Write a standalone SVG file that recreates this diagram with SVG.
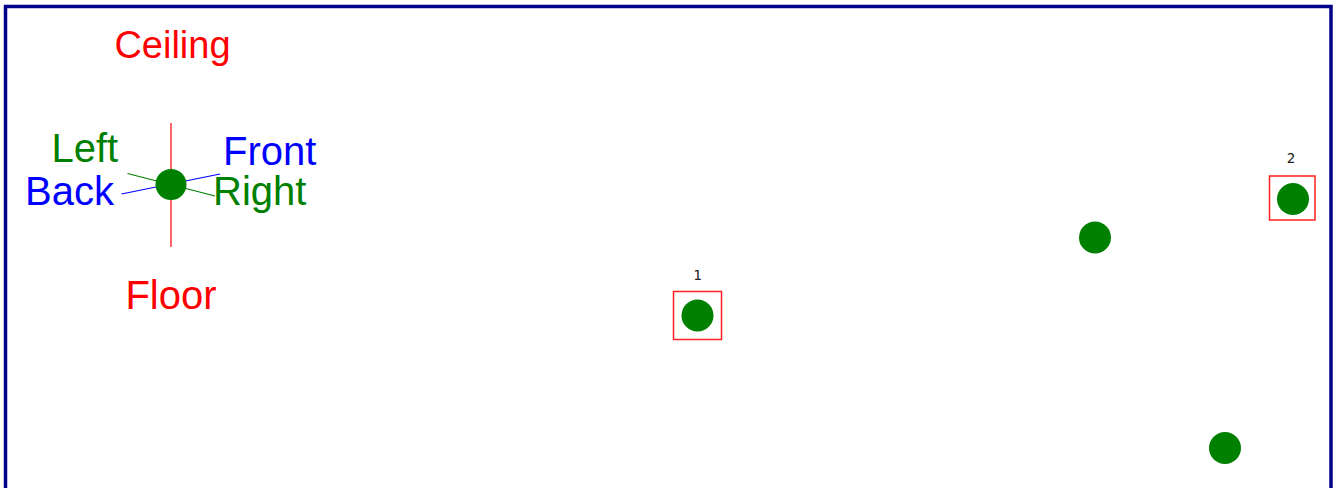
<svg xmlns="http://www.w3.org/2000/svg" width="1333" height="488" viewBox="0 0 1333 488">
<style>
.lbl{font-family:"Liberation Sans",Arial,sans-serif;font-size:40px}
.red{fill:#ff0000}.grn{fill:#008000}.blu{fill:#0000ff}
.num{font-family:"DejaVu Sans Mono","Liberation Mono",monospace;font-size:14px;fill:#222;text-anchor:middle}
.dot{fill:#008000}
.sel{fill:none;stroke:#ff2020;stroke-width:1.5}
</style>
<rect x="5.5" y="6.5" width="1325.5" height="520" fill="#ffffff" stroke="#00008b" stroke-width="3.5"/>
<g id="compass">
<line x1="171" y1="123" x2="171" y2="247" stroke="#ff0000" stroke-width="1.2"/>
<line x1="127.5" y1="173.5" x2="215" y2="196" stroke="#008000" stroke-width="1.2"/>
<line x1="121.5" y1="194" x2="220" y2="174" stroke="#0000ff" stroke-width="1.2"/>
<circle cx="171" cy="184.5" r="15.5" class="dot"/>
<text x="172.5" y="57.5" class="lbl red" text-anchor="middle" style="font-size:38px">Ceiling</text>
<text x="171" y="308.5" class="lbl red" text-anchor="middle">Floor</text>
<text x="51.5" y="162" class="lbl grn">Left</text>
<text x="25" y="204.5" class="lbl blu">Back</text>
<text x="223" y="165" class="lbl blu">Front</text>
<text x="213" y="205" class="lbl grn">Right</text>
</g>
<g id="node1">
<rect x="673.5" y="291.5" width="48" height="48" class="sel"/>
<circle cx="697.5" cy="315.5" r="16" class="dot"/>
<text x="697.5" y="280" class="num">1</text>
</g>
<g id="node2">
<rect x="1269.5" y="176" width="45.5" height="44" class="sel"/>
<circle cx="1293" cy="199" r="16" class="dot"/>
<text x="1291" y="163" class="num">2</text>
</g>
<g id="node3">
<circle cx="1095" cy="237.5" r="16" class="dot"/>
</g>
<g id="node4">
<circle cx="1225" cy="448" r="16" class="dot"/>
</g>
<g id="connectors"></g>
</svg>
